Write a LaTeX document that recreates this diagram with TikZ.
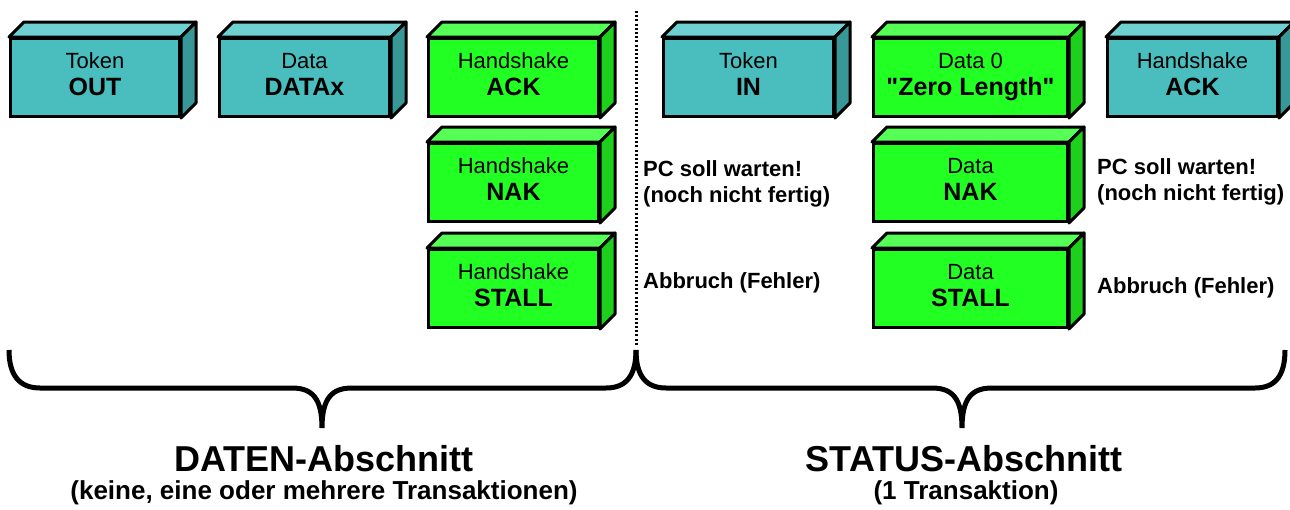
\documentclass[tikz,border=0pt]{standalone}
\usepackage{fontspec}
\setmainfont{Liberation Sans}[Ligatures=TeXOff]
\begin{document}
\begin{tikzpicture}[x=1pt,y=-1pt,
  front/.style={draw=black, line width=3pt, rectangle, anchor=north west,
    minimum height=78pt, inner sep=0pt, text height=40pt, text depth=5pt,
    font=\fontsize{22}{27}\selectfont},
  tealbox/.style={front, fill=tealF},
  greenbox/.style={front, fill=greenF},
  note/.style={font=\fontsize{22}{26}\selectfont\bfseries, align=left, anchor=west, inner sep=0pt},
  brace/.style={line width=5pt},
  sep/.style={line width=3pt, dash pattern=on 2pt off 2.2pt},
  title/.style={font=\fontsize{36}{40}\selectfont\bfseries, inner sep=0pt},
  subtitle/.style={font=\fontsize{26}{28}\selectfont\bfseries, inner sep=0pt}
]
\definecolor{tealF}{HTML}{4ABEBE}
\definecolor{tealT}{HTML}{6ED0D0}
\definecolor{tealS}{HTML}{389898}
\definecolor{greenF}{HTML}{22FF22}
\definecolor{greenT}{HTML}{55FF55}
\definecolor{greenS}{HTML}{1CD01C}

\useasboundingbox (0,0) rectangle (1290,509);

% 3D faces (top and side) drawn on the front face of a box node
\newcommand{\boxfaces}[3]{%
  \filldraw[fill=#2, line width=3pt, line join=round]
    (#1.north west) -- ([shift={(15,-15)}]#1.north west)
    -- ([shift={(15,-15)}]#1.north east) -- (#1.north east) -- cycle;
  \filldraw[fill=#3, line width=3pt, line join=round]
    (#1.north east) -- ([shift={(15,-15)}]#1.north east)
    -- ([shift={(15,-15)}]#1.south east) -- (#1.south east) -- cycle;
}
% two-line box label: plain first line, bold second line
\newcommand{\two}[2]{\begin{tabular}[b]{@{}c@{}}#1\\{\fontsize{25}{27}\selectfont\bfseries #2}\end{tabular}}

% data stage
\node[tealbox, minimum width=169pt] (out) at (9,37) {\two{Token}{OUT}};
\boxfaces{out}{tealT}{tealS}
\node[tealbox, minimum width=170pt] (datax) at (218,37) {\two{Data}{DATAx}};
\boxfaces{datax}{tealT}{tealS}
\node[greenbox, minimum width=170pt] (ack) at (427,37) {\two{Handshake}{ACK}};
\boxfaces{ack}{greenT}{greenS}
\node[greenbox, minimum width=170pt] (nak) at (427,142) {\two{Handshake}{NAK}};
\boxfaces{nak}{greenT}{greenS}
\node[greenbox, minimum width=170pt] (stall) at (427,248) {\two{Handshake}{STALL}};
\boxfaces{stall}{greenT}{greenS}

% status stage
\node[tealbox, minimum width=170pt] (in) at (662,37) {\two{Token}{IN}};
\boxfaces{in}{tealT}{tealS}
\node[greenbox, minimum width=194pt] (zero) at (872,37) {\two{Data 0}{"Zero Length"}};
\boxfaces{zero}{greenT}{greenS}
\node[tealbox, minimum width=170pt] (ack2) at (1106,37) {\two{Handshake}{ACK}};
\boxfaces{ack2}{tealT}{tealS}
\node[greenbox, minimum width=194pt] (dnak) at (872,142) {\two{Data}{NAK}};
\boxfaces{dnak}{greenT}{greenS}
\node[greenbox, minimum width=194pt] (dstall) at (872,248) {\two{Data}{STALL}};
\boxfaces{dstall}{greenT}{greenS}

% notes
\node[note] (w1) at (643,184) {PC soll warten!\\(noch nicht fertig)};
\node[note] (a1) at (643,283) {Abbruch (Fehler)};
\node[note] (w2) at (1097,182) {PC soll warten!\\(noch nicht fertig)};
\node[note] (a2) at (1097,288) {Abbruch (Fehler)};

% separator
\coordinate (sepTop) at (636,11);
\coordinate (sepBot) at (636,345);
\draw[sep] (sepTop) -- (sepBot);

% braces
\coordinate (bL) at (9,350);
\coordinate (bM) at (636,350);
\coordinate (bR) at (1285,350);
\coordinate (tipL) at (322,428);
\coordinate (tipR) at (962,428);
\draw[brace] (bL) .. controls (9,376) and (20,388) .. (40,388) -- (292,388)
  .. controls (312,388) and (322,398) .. (tipL)
  .. controls (322,398) and (332,388) .. (352,388) -- (606,388)
  .. controls (626,388) and (636,376) .. (bM);
\draw[brace] (bM) .. controls (636,376) and (646,388) .. (666,388) -- (932,388)
  .. controls (952,388) and (962,398) .. (tipR)
  .. controls (962,398) and (972,388) .. (992,388) -- (1255,388)
  .. controls (1275,388) and (1285,376) .. (bR);

% section titles
\node[title] (daten) at (324,459) {DATEN-Abschnitt};
\node[subtitle] (datensub) at (324,493) {(keine, eine oder mehrere Transaktionen)};
\node[title] (status) at (964,459) {STATUS-Abschnitt};
\node[subtitle] (statussub) at (966,493) {(1 Transaktion)};
\end{tikzpicture}
\end{document}
